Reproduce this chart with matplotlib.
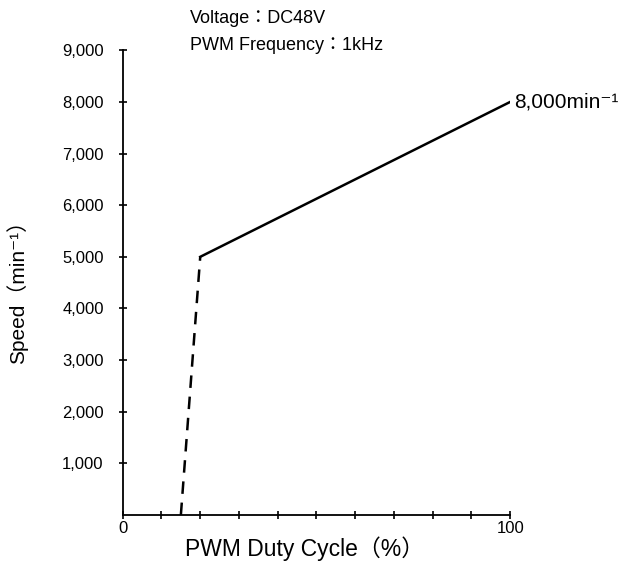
import matplotlib.pyplot as plt

plt.rcParams['font.family'] = ['Liberation Sans', 'Noto Sans CJK JP', 'DejaVu Sans']

# data
ramp_duty = [15, 20]          # dashed start-up part
ramp_speed = [0, 5000]
run_duty = [20, 100]          # solid linear part
run_speed = [5000, 8000]
yticks = [1000, 2000, 3000, 4000, 5000, 6000, 7000, 8000, 9000]
ytick_labels = ['1,000', '2,000', '3,000', '4,000', '5,000', '6,000', '7,000', '8,000', '9,000']
xticks = [0, 10, 20, 30, 40, 50, 60, 70, 80, 90, 100]

fig = plt.figure(figsize=(6.23, 5.71), dpi=100)
ax = fig.add_axes([0.197, 0.098, 0.622, 0.814])

ax.plot(ramp_duty, ramp_speed, color='black', lw=1.8, ls=(0, (5, 3.5)))
ax.plot(run_duty, run_speed, color='black', lw=1.8)

ax.set_xlim(0, 100)
ax.set_ylim(0, 9000)
ax.set_xticks(xticks)
ax.set_xticklabels(['0'] + [''] * 9 + ['100'])
ax.set_yticks(yticks)
ax.set_yticklabels(ytick_labels)
ax.tick_params(direction='inout', length=5.5, width=1.2, labelsize=12)
ax.tick_params(axis='y', pad=11)
ax.tick_params(axis='x', pad=1.5)

for s in ['top', 'right']:
    ax.spines[s].set_visible(False)
for s in ['left', 'bottom']:
    ax.spines[s].set_linewidth(1.3)
ax.spines['left'].set_bounds(0, 9000)

ax.set_xlabel('PWM Duty Cycle（%）', fontsize=16.5)
ax.xaxis.set_label_coords(0.47, -0.045)
ax.set_ylabel('Speed（min⁻¹）', fontsize=15)
ax.yaxis.set_label_coords(-0.245, 0.49)

ax.annotate('8,000min⁻¹', xy=(run_duty[-1], run_speed[-1]), xytext=(3, 0),
            textcoords='offset points', fontsize=15, va='center', ha='left')

fig.text(0.305, 0.968, 'Voltage：DC48V', fontsize=13, va='center')
fig.text(0.305, 0.921, 'PWM Frequency：1kHz', fontsize=13, va='center')

fig.savefig('out.png', dpi=100)
